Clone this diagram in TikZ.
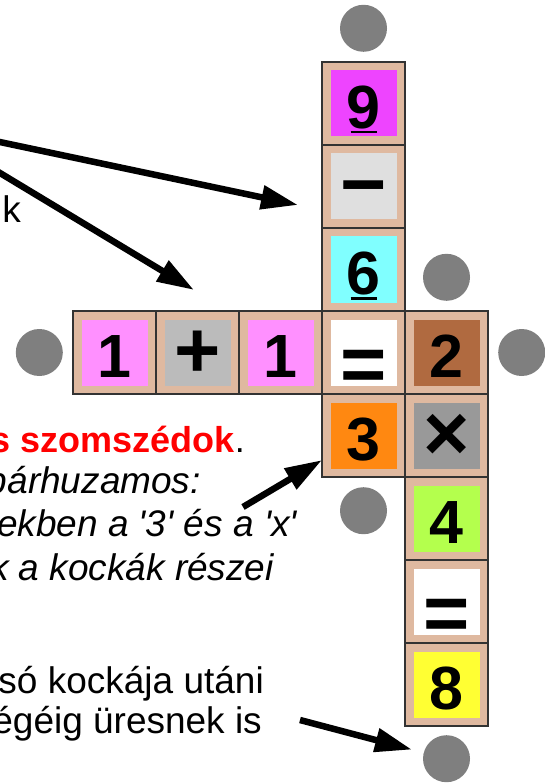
\documentclass[tikz,border=0pt]{standalone}
\usepackage{fontspec}
\usepackage{graphicx}
\setmainfont{Liberation Sans}
\usetikzlibrary{positioning, arrows.meta}

\definecolor{cubetan}{RGB}{223,185,160}
\definecolor{magc}{RGB}{238,68,255}
\definecolor{lgrayc}{RGB}{223,223,223}
\definecolor{cyanc}{RGB}{128,255,255}
\definecolor{pinkc}{RGB}{255,144,255}
\definecolor{plusc}{RGB}{187,187,187}
\definecolor{brownc}{RGB}{176,106,64}
\definecolor{orangec}{RGB}{255,136,17}
\definecolor{timesc}{RGB}{153,153,153}
\definecolor{limec}{RGB}{180,255,77}
\definecolor{yellowc}{RGB}{255,255,51}
\definecolor{dotgray}{RGB}{127,127,127}

\newcommand\ulnum[1]{\ooalign{#1\cr\hidewidth\rule[-5pt]{26pt}{2.5pt}\hidewidth\cr}}
\newcommand\bigsym[1]{\scalebox{1.3}{#1}}

\begin{document}
\begin{tikzpicture}[x=1pt, y=-1pt,
    cube/.style={draw=black!80, line width=1.2pt, fill=cubetan, minimum size=83pt, inner sep=0pt, outer sep=0pt, text height=50pt, text depth=0pt, font=\fontsize{61}{61}\selectfont\bfseries,
        path picture={\fill[#1] ([shift={(8.5pt,8.5pt)}]path picture bounding box.south west) rectangle ([shift={(-8.5pt,-8.5pt)}]path picture bounding box.north east);}},
    dot/.style={circle, fill=dotgray, minimum size=47pt, inner sep=0pt},
    arr/.style={line width=6.5pt, -{Triangle[length=37pt, width=23pt]}},
    txt/.style={anchor=base east, inner sep=0pt, font=\fontsize{37}{40}\selectfont},
    itxt/.style={txt, font=\fontsize{37}{40}\selectfont\itshape},
]
\useasboundingbox (0,0) rectangle (545,783);

% === Cubes: horizontal row ===
\node[cube=white] (eqa) at (363.5, 352.5) {\raisebox{-14pt}{\bigsym{=}}};
\node[cube=pinkc, left=0pt of eqa] (oneb) {1};
\node[cube=plusc, left=0pt of oneb] (plus) {\bigsym{+}};
\node[cube=pinkc, left=0pt of plus] (onea) {1};
\node[cube=brownc, right=0pt of eqa] (two) {2};

% === Cubes: first column ===
\node[cube=cyanc, above=0pt of eqa] (six) {\ulnum{6}};
\node[cube=lgrayc, above=0pt of six] (minus) {\bigsym{−}};
\node[cube=magc, above=0pt of minus] (nine) {\ulnum{9}};
\node[cube=orangec, below=0pt of eqa] (three) {3};

% === Cubes: second column ===
\node[cube=timesc, below=0pt of two] (times) {\bigsym{×}};
\node[cube=limec, below=0pt of times] (four) {4};
\node[cube=white, below=0pt of four] (eqb) {\raisebox{-14pt}{\bigsym{=}}};
\node[cube=yellowc, below=0pt of eqb] (eight) {8};

% Empty places
\node[dot, above=10pt of nine] (dotN) {};
\node[dot, above=10pt of two] (dotNE) {};
\node[dot, left=10pt of onea] (dotW) {};
\node[dot, right=10pt of two] (dotE) {};
\node[dot, below=10pt of three] (dotSW) {};
\node[dot, below=9pt of eight] (dotS) {};

% === Texts (cut at the left edge) ===
\node[txt] (tuk) at (21, 223) {uk};
\node[txt, font=\fontsize{36}{40}\selectfont] (tszom) at (245, 452) {\textcolor{red}{\bfseries s szomszédok}.};
\node[itxt] (tpar) at (201, 493) {párhuzamos:};
\node[itxt] (tesetek) at (297, 536) {tekben a \textquotesingle3\textquotesingle{} és a \textquotesingle x\textquotesingle};
\node[itxt] (treszei) at (274, 580) {k a kockák részei};
\node[txt] (tutani) at (264, 693) {só kockája utáni};
\node[txt] (tures) at (262, 733) {égéig üresnek is};

% Arrows
\coordinate (a1s) at (-5, 141);
\coordinate (a1e) at (298, 205);
\coordinate (a2s) at (-5, 170);
\coordinate (a2e) at (194, 290);
\coordinate (a3s) at (243, 507);
\coordinate (a4s) at (300, 720);
\draw[arr] (a1s) -- (a1e);
\draw[arr] (a2s) -- (a2e);
\draw[arr] (a3s) -- (three);
\draw[arr, shorten >=12pt] (a4s) -- (dotS);
\end{tikzpicture}
\end{document}
